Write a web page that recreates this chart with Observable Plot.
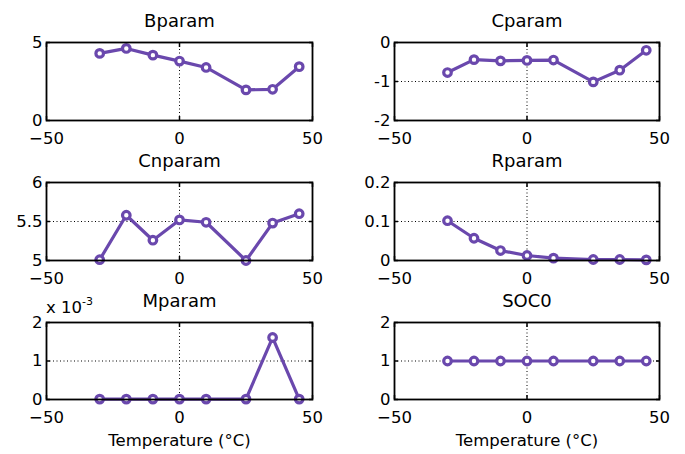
<!DOCTYPE html>
<html>
<head>
<meta charset="utf-8">
<script src="https://cdn.jsdelivr.net/npm/d3@7"></script>
<script src="https://cdn.jsdelivr.net/npm/@observablehq/plot@0.6"></script>
<style>
  html, body { margin: 0; padding: 0; background: #fff; }
  #chart { position: relative; width: 685px; height: 454px; font-family: "DejaVu Sans", sans-serif; }
  #chart > .panel { position: absolute; }
  #chart svg { overflow: visible; background: transparent; }
  .exp { position: absolute; font-size: 16.5px; color: #000; white-space: nowrap; line-height: 1; }
  .exp sup { font-size: 11px; vertical-align: 0; position: relative; top: -8px; }
</style>
</head>
<body>
<div id="chart"></div>
<script>
// Data
const temps   = [-30, -20, -10, 0, 10, 25, 35, 45];
const bparam  = [4.30, 4.62, 4.19, 3.81, 3.40, 1.96, 2.00, 3.45];
const cparam  = [-0.77, -0.44, -0.47, -0.46, -0.45, -1.01, -0.71, -0.20];
const cnparam = [5.01, 5.58, 5.26, 5.52, 5.49, 5.00, 5.48, 5.60];
const rparam  = [0.102, 0.057, 0.0255, 0.0128, 0.006, 0.0026, 0.0026, 0.0017];
const mparam  = [0.00001, 0.00001, 0.00001, 0.00001, 0.00001, 0.00001, 0.00161, 0.00001];
const soc0    = [1, 1, 1, 1, 1, 1, 1, 1];

const xTicks = [-50, 0, 50];
const titles = ["Bparam", "Cparam", "Cnparam", "Rparam", "Mparam", "SOC0"];
const series = [bparam, cparam, cnparam, rparam, mparam, soc0];
const yDomains = [[0, 5], [-2, 0], [5, 6], [0, 0.2], [0, 0.002], [0, 2]];
const yTicks = [[0, 5], [-2, -1, 0], [5, 5.5, 6], [0, 0.1, 0.2], [0, 0.001, 0.002], [0, 1, 2]];
const yFormats = [d => d, d => d, d => d, d => d, d => d * 1000, d => d];
const xLabel = "Temperature (°C)";

const color = "#6a48ad";
const chart = document.getElementById("chart");
const font = '"DejaVu Sans", sans-serif';

for (let i = 0; i < 6; i++) {
  const col = i % 2, row = Math.floor(i / 2);
  const left = col === 0 ? 0 : 340;
  const top = row * 140;
  const width = col === 0 ? 340 : 345;
  const mL = col === 0 ? 46 : 54;
  const mR = col === 0 ? 28 : 26;
  const mT = 42;
  const plotH = row === 2 ? 77 : 78;
  const mB = row === 2 ? 55 : 20;
  const data = temps.map((t, j) => ({t, v: series[i][j]}));
  const marks = [
    Plot.gridX(xTicks, {stroke: "#000", strokeOpacity: 1, strokeWidth: 1, strokeDasharray: "1,2.5"}),
    Plot.gridY(yTicks[i], {stroke: "#000", strokeOpacity: 1, strokeWidth: 1, strokeDasharray: "1,2.5"}),
    Plot.axisX(xTicks, {anchor: "bottom", tickSize: -4, tickFormat: () => "", strokeWidth: 1.5, label: null}),
    Plot.axisX(xTicks, {anchor: "top", tickSize: -4, tickFormat: () => "", strokeWidth: 1.5, label: null}),
    Plot.axisY(yTicks[i], {anchor: "left", tickSize: -4, tickFormat: () => "", strokeWidth: 1.5, label: null}),
    Plot.axisY(yTicks[i], {anchor: "right", tickSize: -4, tickFormat: () => "", strokeWidth: 1.5, label: null}),
    Plot.axisX(xTicks, {anchor: "bottom", tickSize: 0, tickPadding: 12, fontSize: 16.5, fill: "#000", label: null}),
    Plot.axisY(yTicks[i], {anchor: "left", tickSize: 0, tickPadding: 4, fontSize: 16.5, fill: "#000", label: null, tickFormat: yFormats[i]}),
    Plot.line(data, {x: "t", y: "v", stroke: color, strokeWidth: 3.2}),
    Plot.dot(data, {x: "t", y: "v", r: 3.8, stroke: color, strokeWidth: 3.2, fill: "#fff"}),
    Plot.frame({stroke: "#000", strokeWidth: 1.8}),
    Plot.text([titles[i]], {frameAnchor: "top", lineAnchor: "bottom", dy: -16, fontSize: 18, fill: "#000"})
  ];
  if (row === 2) {
    marks.push(Plot.text([xLabel], {frameAnchor: "bottom", lineAnchor: "top", dy: 35, fontSize: 16.5, fill: "#000"}));
  }
  const svg = Plot.plot({
    width, height: mT + plotH + mB,
    marginLeft: mL, marginRight: mR, marginTop: mT, marginBottom: mB,
    style: {fontFamily: font, fontSize: "16px", background: "transparent", color: "#000", overflow: "visible"},
    x: {domain: [-50, 50], label: null},
    y: {domain: yDomains[i], label: null},
    marks
  });
  const wrap = document.createElement("div");
  wrap.className = "panel";
  wrap.style.left = left + "px";
  wrap.style.top = top + "px";
  wrap.appendChild(svg);
  chart.appendChild(wrap);
}

// exponent label for Mparam
const exp = document.createElement("div");
exp.className = "exp";
exp.style.left = "46px";
exp.style.top = "300px";
exp.innerHTML = "x 10<sup>-3</sup>";
chart.appendChild(exp);
</script>
</body>
</html>
